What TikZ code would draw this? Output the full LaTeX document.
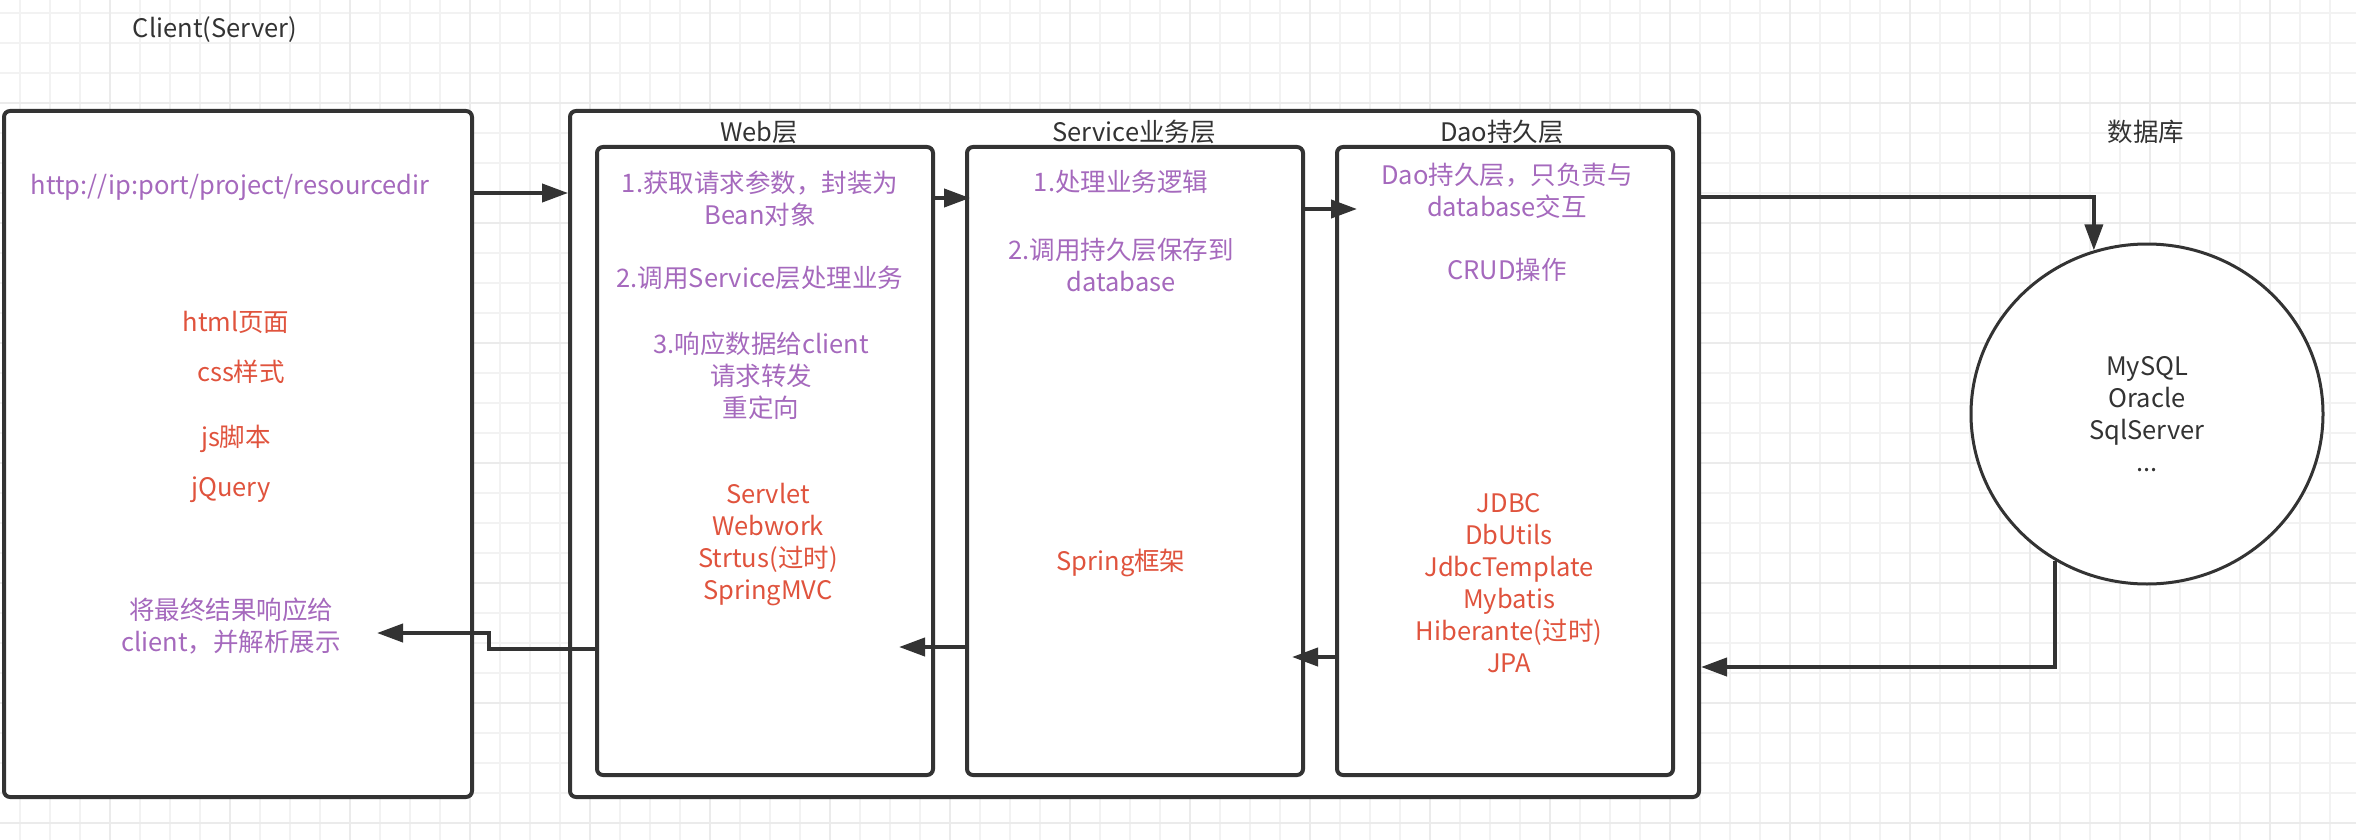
\documentclass[tikz,border=0pt]{standalone}
\usepackage{fontspec}
\setmainfont{Noto Sans CJK SC}
\usepackage{tikz}
\usetikzlibrary{arrows.meta}
\usetikzlibrary{shapes.geometric}
\definecolor{linegray}{HTML}{333333}
\definecolor{layerpurple}{HTML}{A569BD}
\definecolor{toolred}{HTML}{E0533D}

\begin{document}
\begin{tikzpicture}[x=1pt,y=-1pt,
  box/.style={draw=linegray,line width=4pt,rounded corners=6pt,fill=white,inner sep=0pt},
  arr/.style={draw=linegray,line width=4pt,-{Triangle[length=26pt,width=18pt]}},
  txt/.style={align=center,inner sep=0pt,font=\fontsize{25.5}{32}\selectfont},
  note/.style={txt,text=layerpurple},
  tool/.style={txt,text=toolred},
  head/.style={txt,text=linegray},
  gridminor/.style={draw=black!5,line width=1.5pt},
  gridmajor/.style={draw=black!8,line width=2pt}]
\useasboundingbox (0,0) rectangle (2356,840);
% grid of the canvas
\foreach \x in {20,50,...,2340} \draw[gridminor] (\x,0) -- (\x,840);
\foreach \y in {13,43,...,823} \draw[gridminor] (0,\y) -- (2356,\y);
\foreach \x in {110,230,...,2270} \draw[gridmajor] (\x,0) -- (\x,840);
\foreach \y in {103,223,...,823} \draw[gridmajor] (0,\y) -- (2356,\y);

% boxes
\node[box,minimum width=468pt,minimum height=686pt] (client) at (238,454) {};
\node[box,minimum width=1129pt,minimum height=686pt] (outer) at (1134.5,454) {};
\node[box,minimum width=336pt,minimum height=628pt] (web) at (765,461) {};
\node[box,minimum width=336pt,minimum height=628pt] (svc) at (1135,461) {};
\node[box,minimum width=336pt,minimum height=628pt] (dao) at (1505,461) {};
\node[ellipse,draw=linegray,line width=3pt,fill=white,minimum width=352pt,minimum height=340pt,head] (db) at (2147,414) {MySQL\\Oracle\\SqlServer\\...};

% titles
\node[head] (tclient) at (215,30) {Client(Server)};
\node[head] (tweb) at (759,132) {Web层};
\node[head] (tsvc) at (1134,132) {Service业务层};
\node[head] (tdao) at (1502,132) {Dao持久层};
\node[head] (tdb) at (2146,132) {数据库};

% client
\node[note] (url) at (230,187) {http://ip:port/project/resourcedir};
\node[tool] (html) at (236,322) {html页面};
\node[tool] (css) at (241,372) {css样式};
\node[tool] (js) at (236,439) {js脚本};
\node[tool] (jq) at (231,490) {jQuery};
\node[note] (show) at (231,626) {将最终结果响应给\\client，并解析展示};

% web
\node[note] (w1) at (760,198.5) {1.获取请求参数，封装为\\Bean对象};
\node[note] (w2) at (760,278) {2.调用Service层处理业务};
\node[note] (w3) at (761,376) {3.响应数据给client\\请求转发\\重定向};
\node[tool] (wtools) at (768,545) {Servlet\\Webwork\\Strtus(过时)\\SpringMVC};

% service
\node[note] (s1) at (1121,182) {1.处理业务逻辑};
\node[note] (s2) at (1121,264.5) {2.调用持久层保存到\\database};
\node[tool] (stools) at (1121,563) {Spring框架};

% dao
\node[note] (d1) at (1507,191) {Dao持久层，只负责与\\database交互};
\node[note] (d2) at (1507,270) {CRUD操作};
\node[tool] (dtools) at (1509,583) {JDBC\\DbUtils\\JdbcTemplate\\Mybatis\\Hiberante(过时)\\JPA};

% arrows
\draw[arr] (client.east |- 0,193) -- (outer.west |- 0,193);
\draw[arr,shorten >=-5pt] (web.east |- 0,198) -- (svc.west |- 0,198);
\draw[arr,shorten >=-22pt] (svc.east |- 0,209) -- (dao.west |- 0,209);
\draw[arr] (outer.east |- 0,197) -| (db.108);
\draw[arr] (db.238) |- (outer.east |- 0,667);
\draw[arr,shorten >=-13pt] (dao.west |- 0,657) -- (svc.east |- 0,657);
\draw[arr,shorten >=-36pt] (svc.west |- 0,647) -- (web.east |- 0,647);
\coordinate (back) at (377,633);
\draw[arr] (web.west |- 0,649) -| ([xshift=112pt]back) -- (back);
\end{tikzpicture}
\end{document}
